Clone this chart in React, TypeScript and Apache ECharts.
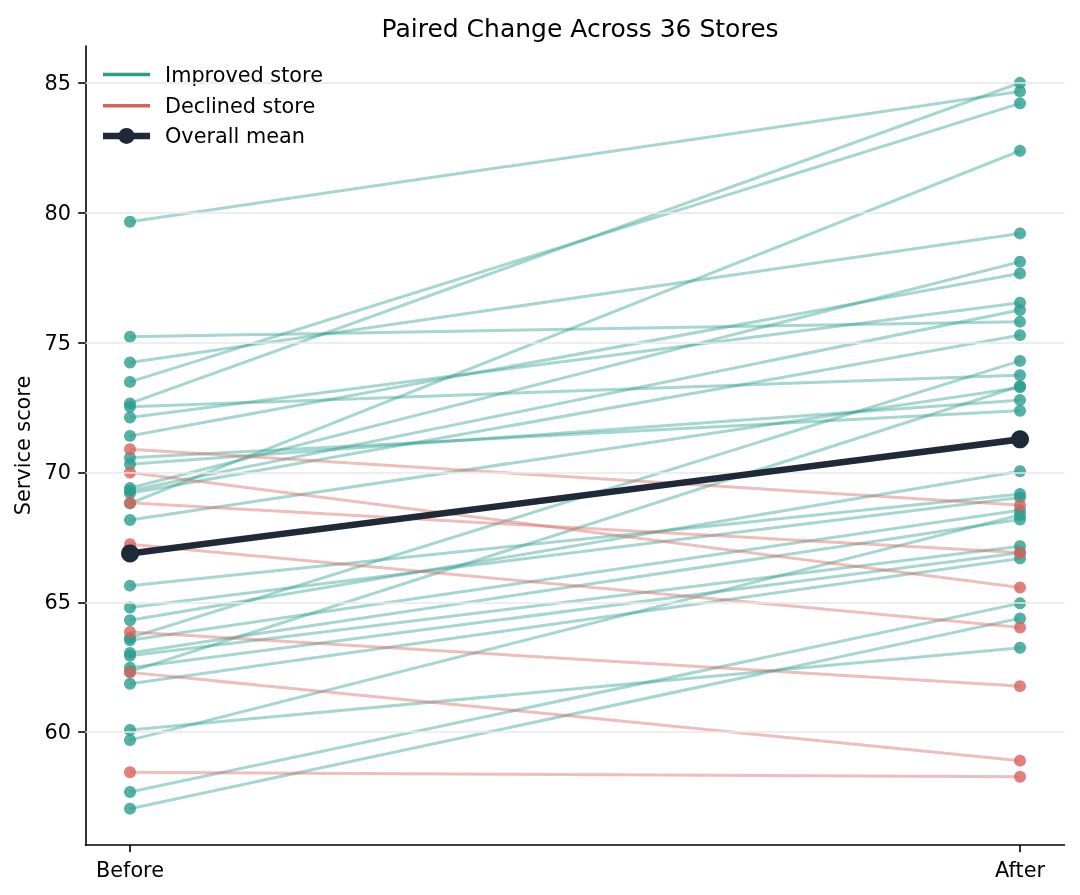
import React, { useEffect, useRef } from "react";
import * as echarts from "echarts";

// ---- data ----
const categories = ["Before", "After"];
const beforeScores = [
  79.66, 75.23, 74.24, 73.49, 72.66, 72.53, 72.12, 71.41, 70.57, 70.32,
  69.4, 69.3, 69.2, 68.81, 68.17, 65.64, 64.8, 64.31, 63.63, 63.54,
  63.05, 62.94, 62.48, 62.33, 61.86, 60.08, 59.69, 57.69, 57.05,
  70.9, 70.0, 68.83, 67.24, 63.86, 62.3, 58.45,
];
const afterScores = [
  84.68, 75.81, 79.21, 84.22, 85.01, 73.75, 76.54, 77.67, 72.38, 72.79,
  78.12, 76.26, 75.29, 82.39, 73.28, 69.17, 69.04, 70.05, 74.3, 68.55,
  68.19, 67.16, 66.91, 73.33, 66.69, 63.25, 68.36, 64.96, 64.38,
  68.74, 65.57, 66.91, 64.03, 61.77, 58.9, 58.28,
];
const yTicks = [60, 65, 70, 75, 80, 85];
const legendLabels = ["Improved store", "Declined store", "Overall mean"];

const TEAL = "#2a9d8f";
const RED = "#d9625b";
const NAVY = "#1f2937";
const FONT = "DejaVu Sans";

const avg = (arr: number[]) => arr.reduce((s, v) => s + v, 0) / arr.length;

export default function App() {
  const ref = useRef<HTMLDivElement>(null);

  useEffect(() => {
    if (!ref.current) return;
    const chart = echarts.init(ref.current, null, { renderer: "svg" });

    const storeSeries = beforeScores.map((b, i) => {
      const a = afterScores[i];
      const c = a >= b ? TEAL : RED;
      return {
        type: "line",
        data: [
          [0, b],
          [1, a],
        ],
        symbol: "circle",
        symbolSize: 12,
        showSymbol: true,
        silent: true,
        lineStyle: { color: c, width: 3, opacity: 0.42 },
        itemStyle: { color: c, opacity: 0.8, borderWidth: 0 },
        emphasis: { disabled: true },
        z: 3,
      };
    });

    const meanSeries = {
      type: "line",
      data: [
        [0, avg(beforeScores)],
        [1, avg(afterScores)],
      ],
      symbol: "circle",
      symbolSize: 18,
      silent: true,
      lineStyle: { color: NAVY, width: 6.5 },
      itemStyle: { color: NAVY, borderWidth: 0 },
      emphasis: { disabled: true },
      z: 6,
    };

    const gridSeries = {
      type: "line",
      data: [],
      silent: true,
      z: 1,
      markLine: {
        silent: true,
        symbol: ["none", "none"],
        label: { show: false },
        emphasis: { disabled: true },
        lineStyle: { color: "#e9e9e9", width: 1.5, type: "solid" },
        data: yTicks.map((v) => ({ yAxis: v })),
      },
    };

    const legendRows = [74.5, 105.7, 135.9];
    const legendColors = [TEAL, RED, NAVY];
    const graphics: any[] = [];
    legendLabels.forEach((label, i) => {
      const y = legendRows[i];
      graphics.push({
        type: "line",
        shape: { x1: 103, y1: y, x2: 150, y2: y },
        style: { stroke: legendColors[i], lineWidth: i === 2 ? 6.5 : 3.6 },
        silent: true,
      });
      if (i === 2) {
        graphics.push({
          type: "circle",
          shape: { cx: 126.5, cy: y, r: 8 },
          style: { fill: NAVY },
          silent: true,
        });
      }
      graphics.push({
        type: "text",
        x: 165,
        y: y + 0.5,
        style: {
          text: label,
          fontSize: 20.8,
          fontFamily: FONT,
          fill: "#000",
          verticalAlign: "middle",
          align: "left",
        },
        silent: true,
      });
    });

    chart.setOption({
      animation: false,
      textStyle: { fontFamily: FONT },
      title: {
        text: "Paired Change Across 36 Stores",
        left: 575,
        top: 11,
        textAlign: "center",
        textStyle: { fontSize: 25, fontWeight: "normal", color: "#000", fontFamily: FONT },
      },
      grid: { left: 85.5, right: 15.5, top: 46, bottom: 50, outerBoundsMode: "none" },
      xAxis: {
        type: "value",
        min: -0.05,
        max: 1.05,
        splitLine: { show: false },
        axisLine: { show: true, onZero: false, lineStyle: { color: "#000", width: 1.6 } },
        axisTick: { show: true, customValues: [0, 1], length: 7.3, lineStyle: { color: "#000", width: 1.6 } },
        axisLabel: {
          customValues: [0, 1],
          formatter: (v: number) => categories[Math.round(v)],
          fontSize: 20.8,
          color: "#000",
          margin: 14.6,
          fontFamily: FONT,
        },
      },
      yAxis: {
        type: "value",
        min: 55.65,
        max: 86.43,
        name: "Service score",
        nameLocation: "middle",
        nameRotate: 90,
        nameGap: 51,
        nameTextStyle: { fontSize: 20.8, color: "#000", fontFamily: FONT },
        splitLine: { show: false },
        axisLine: { show: true, onZero: false, lineStyle: { color: "#000", width: 1.6 } },
        axisTick: { show: true, customValues: yTicks, length: 7.3, lineStyle: { color: "#000", width: 1.6 } },
        axisLabel: {
          customValues: yTicks,
          formatter: (v: number) => String(v),
          fontSize: 20.8,
          color: "#000",
          margin: 14.6,
          fontFamily: FONT,
        },
      },
      graphic: graphics,
      series: [gridSeries, ...storeSeries, meanSeries],
    });

    return () => chart.dispose();
  }, []);

  return (
    <div
      ref={ref}
      style={{ position: "fixed", left: 0, top: 0, width: 1080, height: 895 }}
    />
  );
}
